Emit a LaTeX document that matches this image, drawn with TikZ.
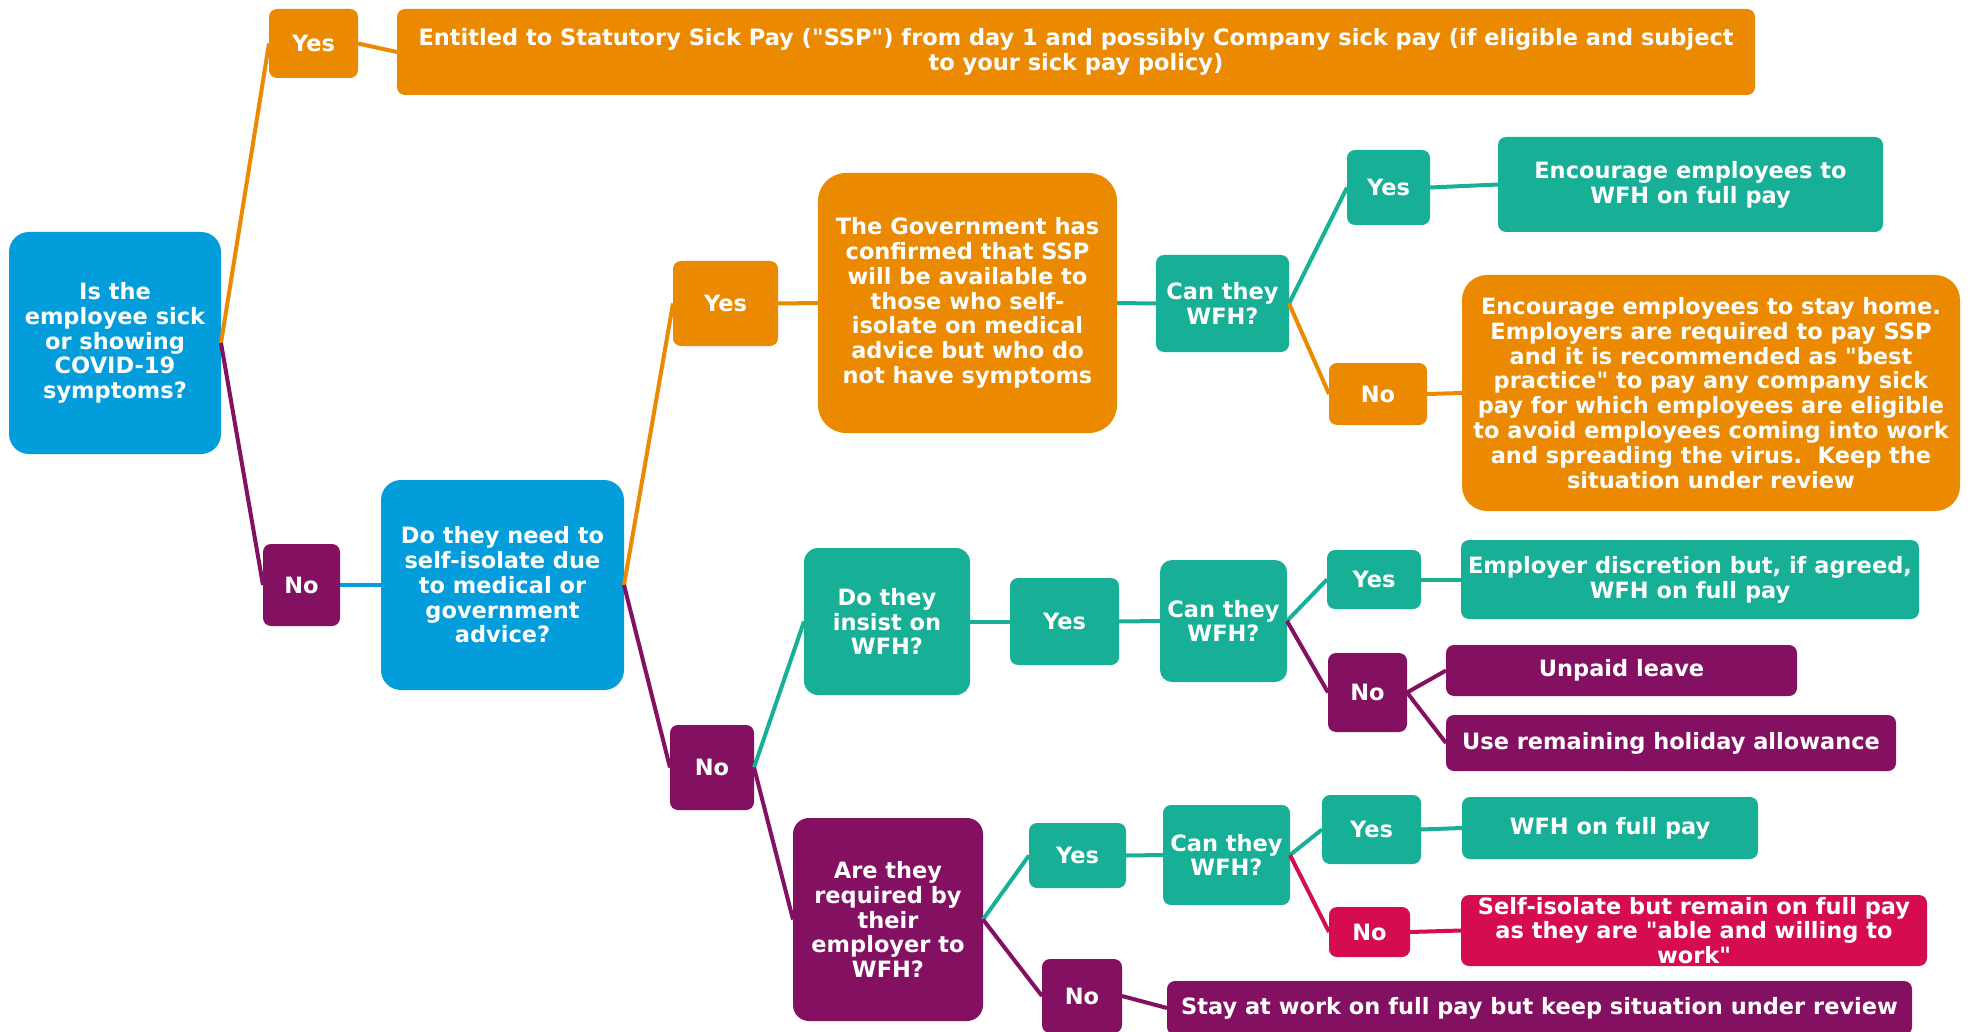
\documentclass[tikz,border=0pt]{standalone}
\usepackage{fontspec}
\setmainfont{DejaVu Sans}[Ligatures=TeXOff]
\definecolor{cblue}{HTML}{039DDC}
\definecolor{corange}{HTML}{EB8900}
\definecolor{cteal}{HTML}{17B097}
\definecolor{cpurple}{HTML}{841062}
\definecolor{ccrimson}{HTML}{D60C52}
\tikzset{
  box/.style={rectangle, rounded corners=8pt, inner sep=1pt, outer sep=0pt, align=center, text=white,
    font=\bfseries\fontsize{22.5}{24.8}\selectfont},
  bigbox/.style={box, rounded corners=20pt},
  edge/.style={line width=4pt},
}
\newcommand{\bx}[7]{\node[#1, fill=#2, minimum width=#5pt, minimum height=#6pt] (#3) at (#4) {#7};}
\begin{document}
\begin{tikzpicture}[x=1pt,y=-1pt]
\useasboundingbox[fill=white] (0,0) rectangle (1970,1032);
% nodes
\bx{bigbox}{cblue}{root}{115,343}{212}{222}{Is the\\employee sick\\or showing\\COVID-19\\symptoms?}
\bx{box}{corange}{yes1}{313.5,43.5}{89}{69}{Yes}
\bx{box}{corange}{ent}{1076,52}{1358}{86}{Entitled to Statutory Sick Pay ("SSP") from day 1 and possibly Company sick pay (if eligible and subject\\to your sick pay policy)}
\bx{box}{cpurple}{no1}{301.5,585}{77}{82}{No}
\bx{bigbox}{cblue}{q2}{502.5,585}{243}{210}{Do they need to\\self-isolate due\\to medical or\\government\\advice?}
\bx{box}{corange}{yes2}{725.5,303.5}{105}{85}{Yes}
\bx{box}{corange, rounded corners=28pt}{gov}{967.5,303}{299}{260}{The Government has\\confirmed that SSP\\will be available to\\those who self-\\isolate on medical\\advice but who do\\not have symptoms}
\bx{box}{cteal}{can1}{1222.5,303.5}{133}{97}{Can they\\WFH?}
\bx{box}{cteal}{yes3}{1388.5,187.5}{83}{75}{Yes}
\bx{box}{cteal}{enc}{1690.5,184.5}{385}{95}{Encourage employees to\\WFH on full pay}
\bx{box}{corange}{no3}{1378,394}{98}{62}{No}
\bx{box}{corange, rounded corners=25pt}{encstay}{1711,393}{498}{236}{Encourage employees to stay home.\\Employers are required to pay SSP\\and it is recommended as "best\\practice" to pay any company sick\\pay for which employees are eligible\\to avoid employees coming into work\\and spreading the virus.\ \ Keep the\\situation under review}
\bx{box}{cpurple}{no2}{712,767.5}{84}{85}{No}
\bx{box}{cteal, rounded corners=14pt}{insist}{887,621.5}{166}{147}{Do they\\insist on\\WFH?}
\bx{box}{cteal}{yes4}{1064.5,621.5}{109}{87}{Yes}
\bx{box}{cteal, rounded corners=12pt}{can2}{1223.5,621}{127}{122}{Can they\\WFH?}
\bx{box}{cteal}{yes5}{1374,579.5}{94}{59}{Yes}
\bx{box}{cteal}{empdisc}{1690,579.5}{458}{79}{Employer discretion but, if agreed,\\WFH on full pay}
\bx{box}{cpurple}{no4}{1367.5,692.5}{79}{79}{No}
\bx{box}{cpurple}{unpaid}{1621.5,670.5}{351}{51}{Unpaid leave}
\bx{box}{cpurple}{holiday}{1671,743}{450}{56}{Use remaining holiday allowance}
\bx{box}{cpurple, rounded corners=16pt}{required}{888,919.5}{190}{203}{Are they\\required by\\their\\employer to\\WFH?}
\bx{box}{cteal}{yes6}{1077.5,855.5}{97}{65}{Yes}
\bx{box}{cteal}{can3}{1226.5,855}{127}{100}{Can they\\WFH?}
\bx{box}{cteal}{yes7}{1371.5,829.5}{99}{69}{Yes}
\bx{box}{cteal}{wfhfull}{1610,828}{296}{62}{WFH on full pay}
\bx{box}{ccrimson}{no5}{1369.5,932}{81}{50}{No}
\bx{box}{ccrimson}{selfiso}{1694,930.5}{466}{71}{Self-isolate but remain on full pay\\as they are "able and willing to\\work"}
\bx{box}{cpurple}{no6}{1082,996}{80}{74}{No}
\bx{box}{cpurple}{staywork}{1539.5,1008}{745}{54}{Stay at work on full pay but keep situation under review}
% edges
\draw[edge, corange] (root.east) -- (yes1.west);
\draw[edge, corange] (yes1.east) -- (ent.west);
\draw[edge, cpurple] (root.east) -- (no1.west);
\draw[edge, cblue] (no1.east) -- (q2.west);
\draw[edge, corange] (q2.east) -- (yes2.west);
\draw[edge, corange] (yes2.east) -- (gov.west);
\draw[edge, cteal] (gov.east) -- (can1.west);
\draw[edge, cteal] (can1.east) -- (yes3.west);
\draw[edge, cteal] (yes3.east) -- (enc.west);
\draw[edge, corange] (can1.east) -- (no3.west);
\draw[edge, corange] (no3.east) -- (encstay.west);
\draw[edge, cpurple] (q2.east) -- (no2.west);
\draw[edge, cteal] (no2.east) -- (insist.west);
\draw[edge, cteal] (insist.east) -- (yes4.west);
\draw[edge, cteal] (yes4.east) -- (can2.west);
\draw[edge, cteal] (can2.east) -- (yes5.west);
\draw[edge, cteal] (yes5.east) -- (empdisc.west);
\draw[edge, cpurple] (can2.east) -- (no4.west);
\draw[edge, cpurple] (no4.east) -- (unpaid.west);
\draw[edge, cpurple] (no4.east) -- (holiday.west);
\draw[edge, cpurple] (no2.east) -- (required.west);
\draw[edge, cteal] (required.east) -- (yes6.west);
\draw[edge, cteal] (yes6.east) -- (can3.west);
\draw[edge, cteal] (can3.east) -- (yes7.west);
\draw[edge, cteal] (yes7.east) -- (wfhfull.west);
\draw[edge, ccrimson] (can3.east) -- (no5.west);
\draw[edge, ccrimson] (no5.east) -- (selfiso.west);
\draw[edge, cpurple] (required.east) -- (no6.west);
\draw[edge, cpurple] (no6.east) -- (staywork.west);
\end{tikzpicture}
\end{document}
